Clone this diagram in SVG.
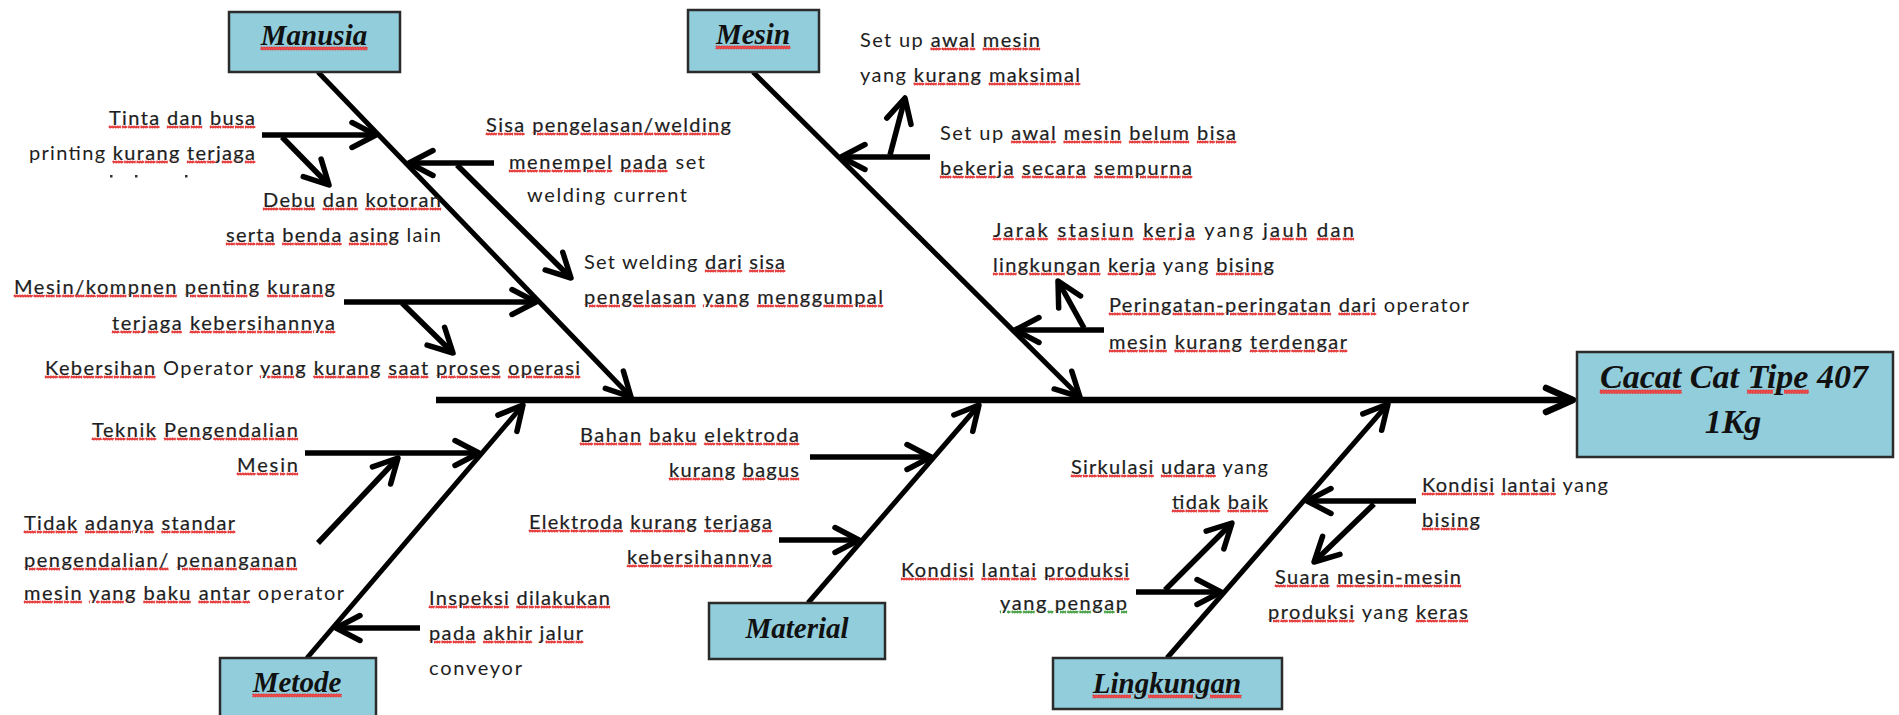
<svg xmlns="http://www.w3.org/2000/svg" width="1899" height="715" viewBox="0 0 1899 715">
  <style>
    .bg { fill: #ffffff; }
    .box { fill: #92cddc; stroke: #2b2b2b; stroke-width: 2.5; }
    .lbl { font-family: "Liberation Serif", "Times New Roman", serif; font-weight: bold; font-style: italic; font-size: 29px; fill: #111; text-anchor: middle; }
    .head { font-size: 34px; }
    .t { font-family: Lato, "Open Sans", "Liberation Sans", sans-serif; font-size: 20px; fill: #1e1e1e; }
    .e { text-anchor: end; }
    .m { text-anchor: middle; }
    /* spell-check marks: the wrapper paints the underline, the inner span paints the glyphs */
    .sp { text-decoration: underline; fill: #e84a4a; stroke: #e23030; stroke-width: 0.9; stroke-dasharray: 1.3 1.3; }
    .gr { text-decoration: underline; fill: #5aaa5a; stroke: #3a9a3a; stroke-width: 0.9; stroke-dasharray: 1.3 1.3; }
    .k { fill: #1e1e1e; stroke: #1e1e1e; stroke-width: 0.2; stroke-dasharray: none; }
    .t > .k, .t { stroke-width: 0.2; }
    .lbl .k { fill: #111; stroke: none; }
    .bone { fill: none; stroke: #000; stroke-width: 5; marker-end: url(#ah); }
    .spine { fill: none; stroke: #000; stroke-width: 6.5; marker-end: url(#ahBig); }
    .arr { fill: none; stroke: #000; stroke-width: 5.5; marker-end: url(#ah); }
  </style>
  <defs>
    <marker id="ah" markerUnits="userSpaceOnUse" viewBox="-34 -20 40 40" markerWidth="40" markerHeight="40" refX="0" refY="0" orient="auto" overflow="visible">
      <path d="M-24,-12.5 L0,0 L-24,12.5" fill="none" stroke="#000" stroke-width="5.5" stroke-linecap="round" stroke-linejoin="round"/>
    </marker>
    <marker id="ahBig" markerUnits="userSpaceOnUse" viewBox="-34 -20 40 40" markerWidth="40" markerHeight="40" refX="0" refY="0" orient="auto" overflow="visible">
      <path d="M-27,-12 L0,0 L-27,12" fill="none" stroke="#000" stroke-width="6.5" stroke-linecap="round" stroke-linejoin="round"/>
    </marker>
  </defs>

  <rect class="bg" x="0" y="0" width="1899" height="715"/>

  <!-- spine, bones and cause arrows -->
  <g id="connectors">
    <path class="spine" d="M436,400 L1573,400"/>
    <path class="bone" d="M318,72 L631,397"/>
    <path class="bone" d="M753,72 L1080,397"/>
    <path class="bone" d="M307,658 L523,405"/>
    <path class="bone" d="M808,603 L979,405"/>
    <path class="bone" d="M1167,658 L1388,404"/>

    <!-- Manusia causes -->
    <path class="arr" d="M262,135 L376,135"/>
    <path class="arr" d="M282,137 L329,185"/>
    <path class="arr" d="M494,163 L409,163"/>
    <path class="arr" d="M457,165 L571,278"/>
    <path class="arr" d="M344,302 L536,302"/>
    <path class="arr" d="M402,303 L453,353"/>

    <!-- Mesin causes -->
    <path class="arr" d="M930,157 L841,157"/>
    <path class="arr" d="M890,155 L905,98"/>
    <path class="arr" d="M1104,330 L1015,330"/>
    <path class="arr" d="M1084,328 L1058,281"/>

    <!-- Metode causes -->
    <path class="arr" d="M305,453 L479,453"/>
    <path class="arr" d="M318,543 L398,458"/>
    <path class="arr" d="M420,628 L336,628"/>

    <!-- Material causes -->
    <path class="arr" d="M810,457 L931,457"/>
    <path class="arr" d="M779,540 L859,540"/>

    <!-- Lingkungan causes -->
    <path class="arr" d="M1136,592 L1221,592"/>
    <path class="arr" d="M1165,590 L1232,523"/>
    <path class="arr" d="M1416,501 L1307,501"/>
    <path class="arr" d="M1374,504 L1314,562"/>
  </g>

  <g id="effect">
    <rect class="box" x="1577" y="352" width="316" height="105"/>
    <text class="lbl head" x="1734" y="388"><tspan class="sp"><tspan class="k">Cacat</tspan></tspan> Cat <tspan class="sp"><tspan class="k">Tipe</tspan></tspan> 407</text>
    <text class="lbl head" x="1733" y="433">1Kg</text>
  </g>

  <g id="manusia">
    <rect class="box" x="229" y="12" width="171" height="60"/>
    <text class="lbl" x="314" y="45"><tspan class="sp"><tspan class="k">Manusia</tspan></tspan></text>
    <text class="t e" x="255" y="125" textLength="146"><tspan class="sp"><tspan class="k">Tinta</tspan></tspan> <tspan class="sp"><tspan class="k">dan</tspan></tspan> <tspan class="sp"><tspan class="k">busa</tspan></tspan></text>
    <text class="t e" x="255" y="160" textLength="226">printing <tspan class="sp"><tspan class="k">kurang</tspan></tspan> <tspan class="sp"><tspan class="k">terjaga</tspan></tspan></text>
    <rect x="110" y="175" width="2.5" height="2.5" fill="#333"/>
    <rect x="135" y="175" width="2.5" height="2.5" fill="#333"/>
    <rect x="185" y="175" width="2.5" height="2.5" fill="#333"/>
    <text class="t e" x="441" y="207" textLength="178"><tspan class="sp"><tspan class="k">Debu</tspan></tspan> <tspan class="sp"><tspan class="k">dan</tspan></tspan> <tspan class="sp"><tspan class="k">kotoran</tspan></tspan></text>
    <text class="t e" x="441" y="242" textLength="215"><tspan class="sp"><tspan class="k">serta</tspan></tspan> <tspan class="sp"><tspan class="k">benda</tspan></tspan> <tspan class="sp"><tspan class="k">asing</tspan></tspan> lain</text>
    <text class="t" x="486" y="132" textLength="245"><tspan class="sp"><tspan class="k">Sisa</tspan></tspan> <tspan class="sp"><tspan class="k">pengelasan/welding</tspan></tspan></text>
    <text class="t" x="509" y="169" textLength="196"><tspan class="sp"><tspan class="k">menempel</tspan></tspan> <tspan class="sp"><tspan class="k">pada</tspan></tspan> set</text>
    <text class="t" x="527" y="202" textLength="160">welding current</text>
    <text class="t" x="584" y="269" textLength="201">Set welding <tspan class="sp"><tspan class="k">dari</tspan></tspan> <tspan class="sp"><tspan class="k">sisa</tspan></tspan></text>
    <text class="t" x="584" y="304" textLength="299"><tspan class="sp"><tspan class="k">pengelasan</tspan></tspan> <tspan class="sp"><tspan class="k">yang</tspan></tspan> <tspan class="sp"><tspan class="k">menggumpal</tspan></tspan></text>
    <text class="t e" x="335" y="294" textLength="321"><tspan class="sp"><tspan class="k">Mesin/kompnen</tspan></tspan> <tspan class="sp"><tspan class="k">penting</tspan></tspan> <tspan class="sp"><tspan class="k">kurang</tspan></tspan></text>
    <text class="t e" x="335" y="330" textLength="223"><tspan class="sp"><tspan class="k">terjaga</tspan></tspan> <tspan class="sp"><tspan class="k">kebersihannya</tspan></tspan></text>
    <text class="t" x="45" y="375" textLength="535"><tspan class="sp"><tspan class="k">Kebersihan</tspan></tspan> Operator <tspan class="sp"><tspan class="k">yang</tspan></tspan> <tspan class="sp"><tspan class="k">kurang</tspan></tspan> <tspan class="sp"><tspan class="k">saat</tspan></tspan> <tspan class="sp"><tspan class="k">proses</tspan></tspan> <tspan class="sp"><tspan class="k">operasi</tspan></tspan></text>
  </g>

  <g id="mesin">
    <rect class="box" x="688" y="10" width="131" height="62"/>
    <text class="lbl" x="753" y="44"><tspan class="sp"><tspan class="k">Mesin</tspan></tspan></text>
    <text class="t" x="860" y="47" textLength="180">Set up <tspan class="sp"><tspan class="k">awal</tspan></tspan> <tspan class="sp"><tspan class="k">mesin</tspan></tspan></text>
    <text class="t" x="860" y="82" textLength="220">yang <tspan class="sp"><tspan class="k">kurang</tspan></tspan> <tspan class="sp"><tspan class="k">maksimal</tspan></tspan></text>
    <text class="t" x="940" y="140" textLength="296">Set up <tspan class="sp"><tspan class="k">awal</tspan></tspan> <tspan class="sp"><tspan class="k">mesin</tspan></tspan> <tspan class="sp"><tspan class="k">belum</tspan></tspan> <tspan class="sp"><tspan class="k">bisa</tspan></tspan></text>
    <text class="t" x="940" y="175" textLength="252"><tspan class="sp"><tspan class="k">bekerja</tspan></tspan> <tspan class="sp"><tspan class="k">secara</tspan></tspan> <tspan class="sp"><tspan class="k">sempurna</tspan></tspan></text>
    <text class="t" x="993" y="237" textLength="361"><tspan class="sp"><tspan class="k">Jarak</tspan></tspan> <tspan class="sp"><tspan class="k">stasiun</tspan></tspan> <tspan class="sp"><tspan class="k">kerja</tspan></tspan> yang <tspan class="sp"><tspan class="k">jauh</tspan></tspan> <tspan class="sp"><tspan class="k">dan</tspan></tspan></text>
    <text class="t" x="993" y="272" textLength="281"><tspan class="sp"><tspan class="k">lingkungan</tspan></tspan> <tspan class="sp"><tspan class="k">kerja</tspan></tspan> yang <tspan class="sp"><tspan class="k">bising</tspan></tspan></text>
    <text class="t" x="1109" y="312" textLength="360"><tspan class="sp"><tspan class="k">Peringatan-peringatan</tspan></tspan> <tspan class="sp"><tspan class="k">dari</tspan></tspan> operator</text>
    <text class="t" x="1109" y="349" textLength="238"><tspan class="sp"><tspan class="k">mesin</tspan></tspan> <tspan class="sp"><tspan class="k">kurang</tspan></tspan> <tspan class="sp"><tspan class="k">terdengar</tspan></tspan></text>
  </g>

  <g id="metode">
    <rect class="box" x="220" y="658" width="156" height="70"/>
    <text class="lbl" x="297" y="692"><tspan class="sp"><tspan class="k">Metode</tspan></tspan></text>
    <text class="t e" x="298" y="437" textLength="206"><tspan class="sp"><tspan class="k">Teknik</tspan></tspan> <tspan class="sp"><tspan class="k">Pengendalian</tspan></tspan></text>
    <text class="t e" x="298" y="472" textLength="61"><tspan class="sp"><tspan class="k">Mesin</tspan></tspan></text>
    <text class="t" x="24" y="530" textLength="211"><tspan class="sp"><tspan class="k">Tidak</tspan></tspan> <tspan class="sp"><tspan class="k">adanya</tspan></tspan> <tspan class="sp"><tspan class="k">standar</tspan></tspan></text>
    <text class="t" x="24" y="567" textLength="273"><tspan class="sp"><tspan class="k">pengendalian/</tspan></tspan> <tspan class="sp"><tspan class="k">penanganan</tspan></tspan></text>
    <text class="t" x="24" y="600" textLength="320"><tspan class="sp"><tspan class="k">mesin</tspan></tspan> <tspan class="sp"><tspan class="k">yang</tspan></tspan> <tspan class="sp"><tspan class="k">baku</tspan></tspan> <tspan class="sp"><tspan class="k">antar</tspan></tspan> operator</text>
    <text class="t" x="429" y="605" textLength="181"><tspan class="sp"><tspan class="k">Inspeksi</tspan></tspan> <tspan class="sp"><tspan class="k">dilakukan</tspan></tspan></text>
    <text class="t" x="429" y="640" textLength="154"><tspan class="sp"><tspan class="k">pada</tspan></tspan> <tspan class="sp"><tspan class="k">akhir</tspan></tspan> <tspan class="sp"><tspan class="k">jalur</tspan></tspan></text>
    <text class="t" x="429" y="675" textLength="93">conveyor</text>
  </g>

  <g id="material">
    <rect class="box" x="709" y="603" width="176" height="56"/>
    <text class="lbl" x="797" y="638">Material</text>
    <text class="t e" x="799" y="442" textLength="219"><tspan class="sp"><tspan class="k">Bahan</tspan></tspan> <tspan class="sp"><tspan class="k">baku</tspan></tspan> <tspan class="sp"><tspan class="k">elektroda</tspan></tspan></text>
    <text class="t e" x="799" y="477" textLength="130"><tspan class="sp"><tspan class="k">kurang</tspan></tspan> <tspan class="sp"><tspan class="k">bagus</tspan></tspan></text>
    <text class="t e" x="772" y="529" textLength="243"><tspan class="sp"><tspan class="k">Elektroda</tspan></tspan> <tspan class="sp"><tspan class="k">kurang</tspan></tspan> <tspan class="sp"><tspan class="k">terjaga</tspan></tspan></text>
    <text class="t e" x="772" y="564" textLength="145"><tspan class="sp"><tspan class="k">kebersihannya</tspan></tspan></text>
  </g>

  <g id="lingkungan">
    <rect class="box" x="1053" y="658" width="229" height="51"/>
    <text class="lbl" x="1167" y="693"><tspan class="sp"><tspan class="k">Lingkungan</tspan></tspan></text>
    <text class="t e" x="1268" y="474" textLength="197"><tspan class="sp"><tspan class="k">Sirkulasi</tspan></tspan> <tspan class="sp"><tspan class="k">udara</tspan></tspan> yang</text>
    <text class="t e" x="1268" y="509" textLength="96"><tspan class="sp"><tspan class="k">tidak</tspan></tspan> <tspan class="sp"><tspan class="k">baik</tspan></tspan></text>
    <text class="t e" x="1129" y="577" textLength="228"><tspan class="sp"><tspan class="k">Kondisi</tspan></tspan> <tspan class="sp"><tspan class="k">lantai</tspan></tspan> <tspan class="sp"><tspan class="k">produksi</tspan></tspan></text>
    <text class="t e" x="1127" y="610" textLength="127"><tspan class="gr"><tspan class="k">yang pengap</tspan></tspan></text>
    <text class="t" x="1422" y="492" textLength="186"><tspan class="sp"><tspan class="k">Kondisi</tspan></tspan> <tspan class="sp"><tspan class="k">lantai</tspan></tspan> yang</text>
    <text class="t" x="1422" y="527" textLength="58"><tspan class="sp"><tspan class="k">bising</tspan></tspan></text>
    <text class="t m" x="1368" y="584" textLength="186"><tspan class="sp"><tspan class="k">Suara</tspan></tspan> <tspan class="sp"><tspan class="k">mesin-mesin</tspan></tspan></text>
    <text class="t m" x="1368" y="619" textLength="200"><tspan class="sp"><tspan class="k">produksi</tspan></tspan> yang <tspan class="sp"><tspan class="k">keras</tspan></tspan></text>
  </g>
</svg>
